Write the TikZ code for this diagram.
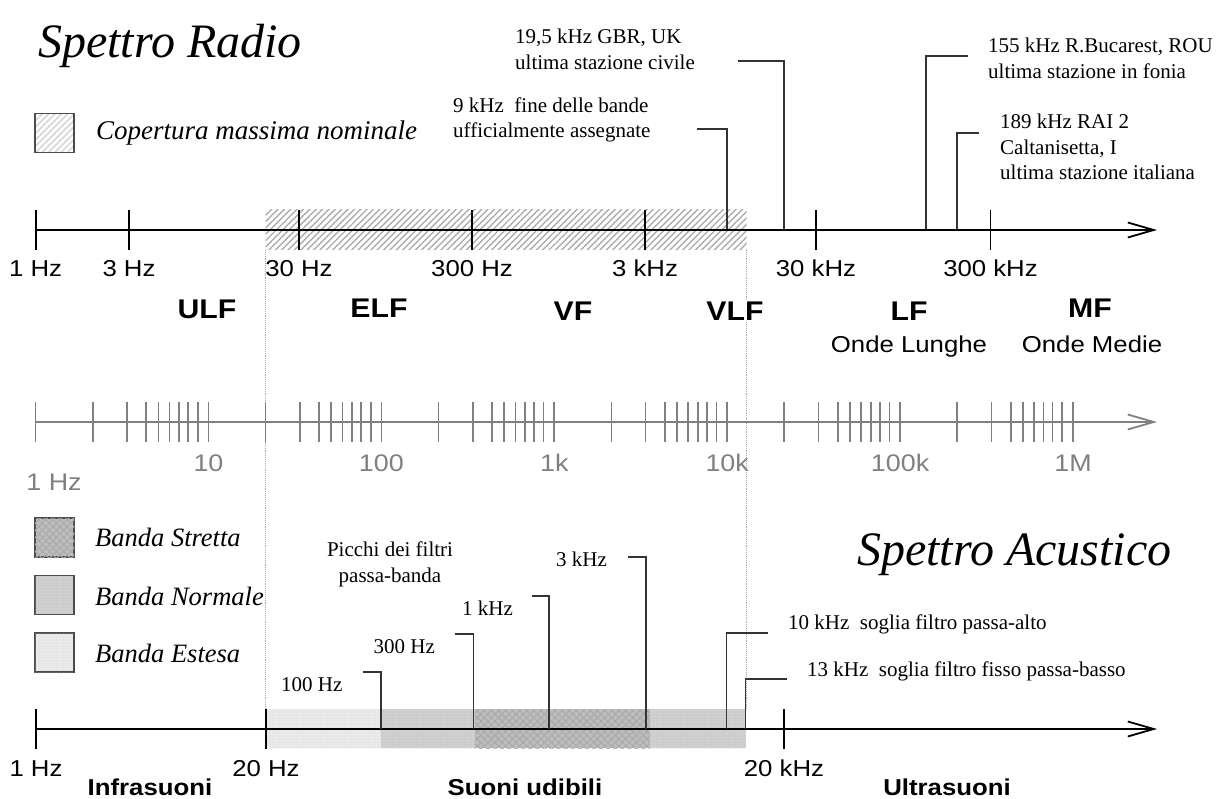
\documentclass[tikz,border=0pt]{standalone}
\usepackage{fontspec}
\setmainfont{Liberation Serif}
\newfontfamily\lsans[FakeStretch=1.12]{Liberation Sans}
\usetikzlibrary{arrows.meta,patterns.meta}
\newcommand\myfs[2]{\fontsize{#1}{#2}\selectfont}
\begin{document}
\begin{tikzpicture}[x=1pt,y=-1pt,
  annot/.style={font=\myfs{21}{25.5}, inner sep=0pt, align=left, anchor=west},
  lead/.style={line width=1.2pt, black!80},
  axisline/.style={line width=1.8pt, -{Straight Barb[length=26pt,width=15pt,line width=1.8pt]}},
  tk/.style={line width=1.8pt},
  gtk/.style={line width=1.7pt, gray},
  alab/.style={font=\lsans\myfs{23}{26}, inner sep=0pt, anchor=base},
  glab/.style={font=\lsans\myfs{24}{27}, inner sep=0pt, text=gray, anchor=base},
  blab/.style={font=\lsans\bfseries\myfs{27}{30}, inner sep=1pt, fill=white, anchor=base},
  slab/.style={font=\lsans\bfseries\myfs{23}{26}, inner sep=0pt, anchor=base},
  legtext/.style={font=\itshape\myfs{26.5}{28}, inner sep=1pt, anchor=west, fill=white},
  ttl/.style={font=\itshape\myfs{48}{52}, inner sep=0pt, anchor=base west},
  legbox/.style={draw=black!70, line width=1.2pt, minimum size=39pt, inner sep=0pt},
  hatch/.style={pattern={Lines[angle=45,distance=4.5pt,line width=1.4pt]}, pattern color=gray!65},
  lhatch/.style={pattern={Lines[angle=45,distance=4.5pt,line width=1.4pt]}, pattern color=gray!35},
  estesa/.style={fill=gray!16, postaction={pattern={Dots[distance=3pt,radius=0.7pt]}, pattern color=gray!35}},
  normale/.style={fill=gray!36, postaction={pattern={Dots[distance=3pt,radius=0.7pt]}, pattern color=gray!55}},
  stretta/.style={fill=gray!52, postaction={pattern={Lines[angle=45,distance=5pt,line width=1pt]}, pattern color=gray!66},
                  postaction={pattern={Lines[angle=-45,distance=5pt,line width=1pt]}, pattern color=gray!66}},
  vdot/.style={densely dotted, gray!70, line width=0.9pt}
]
\useasboundingbox (0,0) rectangle (1225,799);

% ---------- shaded regions ----------
\fill[hatch] (265.6,210) rectangle (746.5,250);
\fill[estesa] (265.6,709) rectangle (381,748);
\fill[normale] (381,709) rectangle (475,748);
\fill[stretta] (475,709) rectangle (650,748);
\fill[normale] (650,709) rectangle (745.7,748);

% ---------- dotted verticals ----------
\coordinate (dA1) at (265.6,250); \coordinate (dA2) at (265.6,709);
\coordinate (dB1) at (746.5,250); \coordinate (dB2) at (746.5,709);
\draw[vdot] (dA1) -- (dA2);
\draw[vdot] (dB1) -- (dB2);

% ---------- titles & legends ----------
\node[ttl] (tradio) at (38,58) {Spettro Radio};
\node[ttl] (tacu) at (857,565) {Spettro Acustico};

\node[legbox, lhatch] (lg0) at (54.5,133) {};
\node[legtext, font=\itshape\myfs{27}{29}] (lg0t) at (95,133) {Copertura massima nominale};

\node[legbox, stretta] (lg1) at (54.5,537.5) {};
\node[legtext] (lg1t) at (94,537) {Banda Stretta};
\node[legbox, normale] (lg2) at (54.5,595) {};
\node[legtext] (lg2t) at (94,596) {Banda Normale};
\node[legbox, estesa] (lg3) at (54.5,652.5) {};
\node[legtext] (lg3t) at (94,653) {Banda Estesa};

% ---------- top axis ----------
\coordinate (ta0) at (35.6,230); \coordinate (ta1) at (1157,230);
\draw[axisline] (ta0) -- (ta1);
\foreach \x/\t [count=\i] in {35.6/1 Hz,129/3 Hz,299/30 Hz,472/300 Hz,645/3 kHz,816/30 kHz,990.5/300 kHz}{
  \draw[tk] (\x,210) -- (\x,250);
  \node[alab] (tl\i) at (\x,277) {\t};
}

\node[blab] (bULF) at (207,319) {ULF};
\node[blab] (bELF) at (379,318) {ELF};
\node[blab] (bVF) at (573,320) {VF};
\node[blab] (bVLF) at (735,320) {VLF};
\node[blab] (bLF) at (909,320) {LF};
\node[blab] (bMF) at (1090,318) {MF};
\node[alab] (oLF) at (909,352) {Onde Lunghe};
\node[alab] (oMF) at (1092,352) {Onde Medie};

% top annotations
\node[annot] (a195) at (515,49.5) {19,5 kHz GBR, UK\\ultima stazione civile};
\coordinate (a195s) at (738,61); \coordinate (a195e) at (784,229);
\draw[lead] (a195s) -| (a195e);

\node[annot] (a9) at (453,120) {9 kHz\ \ fine delle bande\\ufficialmente assegnate};
\coordinate (a9s) at (697,129); \coordinate (a9e) at (727,229);
\draw[lead] (a9s) -| (a9e);

\node[annot] (a155) at (988,58.5) {155 kHz R.Bucarest, ROU\\ultima stazione in fonia};
\coordinate (a155s) at (968,56); \coordinate (a155e) at (926,229);
\draw[lead] (a155s) -| (a155e);

\node[annot] (a189) at (1000,147) {189 kHz RAI 2\\Caltanisetta, I\\ultima stazione italiana};
\coordinate (a189s) at (979,133); \coordinate (a189e) at (957,229);
\draw[lead] (a189s) -| (a189e);

% ---------- middle (gray) axis ----------
\coordinate (ma0) at (35.6,422); \coordinate (ma1) at (1157,422);
\draw[axisline, gray, line width=1.7pt] (ma0) -- (ma1);
\foreach \d in {0,...,5}{
  \foreach \f in {0,0.33,0.528,0.64,0.71,0.775,0.83,0.882,0.938}{
    \draw[gtk] ({35.6+(\d+\f)*172.9},402) -- ++(0,40);
  }
}
\draw[gtk] (1073,402) -- (1073,442);
\foreach \d/\t in {1/10,2/100,3/1k,4/10k,5/100k,6/1M}{
  \node[glab] (gl\d) at ({35.6+\d*172.9},471) {\t};
}
\node[glab] (gl0) at (54,490) {1 Hz};

% ---------- bottom axis ----------
\coordinate (ba0) at (35.6,729); \coordinate (ba1) at (1157,729);
\draw[axisline] (ba0) -- (ba1);
\draw[tk] (35.6,709) -- (35.6,749);
\draw[tk] (265.6,709) -- (265.6,749);
\draw[tk] (784.3,709) -- (784.3,749);
\node[alab] (bl1) at (36,776) {1 Hz};
\node[alab] (bl2) at (266,776) {20 Hz};
\node[alab] (bl3) at (784,776) {20 kHz};
\node[slab] (sInf) at (150,795) {Infrasuoni};
\node[slab] (sUd) at (525,795) {Suoni udibili};
\node[slab] (sUl) at (947,795) {Ultrasuoni};

% bottom annotations
\node[annot, align=center, anchor=center] (pic) at (390,564.5) {Picchi dei filtri\\passa-banda};

\node[annot] (p3k) at (556,559) {3 kHz};
\coordinate (p3ks) at (628,557); \coordinate (p3ke) at (646,729);
\draw[lead] (p3ks) -| (p3ke);

\node[annot] (p1k) at (462,608) {1 kHz};
\coordinate (p1ks) at (532,596); \coordinate (p1ke) at (549,729);
\draw[lead] (p1ks) -| (p1ke);

\node[annot] (p300) at (373.5,647) {300 Hz};
\coordinate (p300s) at (454.5,634); \coordinate (p300e) at (473.5,729);
\draw[lead] (p300s) -| (p300e);

\node[annot] (p100) at (281,685) {100 Hz};
\coordinate (p100s) at (363,672); \coordinate (p100e) at (381,729);
\draw[lead] (p100s) -| (p100e);

\node[annot] (p10k) at (788,624) {10 kHz\ \ soglia filtro passa-alto};
\coordinate (p10ks) at (768,633); \coordinate (p10ke) at (726.7,729);
\draw[lead] (p10ks) -| (p10ke);

\node[annot] (p13k) at (807,671) {13 kHz\ \ soglia filtro fisso passa-basso};
\coordinate (p13ks) at (787,679); \coordinate (p13ke) at (745.7,729);
\draw[lead] (p13ks) -| (p13ke);
\end{tikzpicture}
\end{document}
